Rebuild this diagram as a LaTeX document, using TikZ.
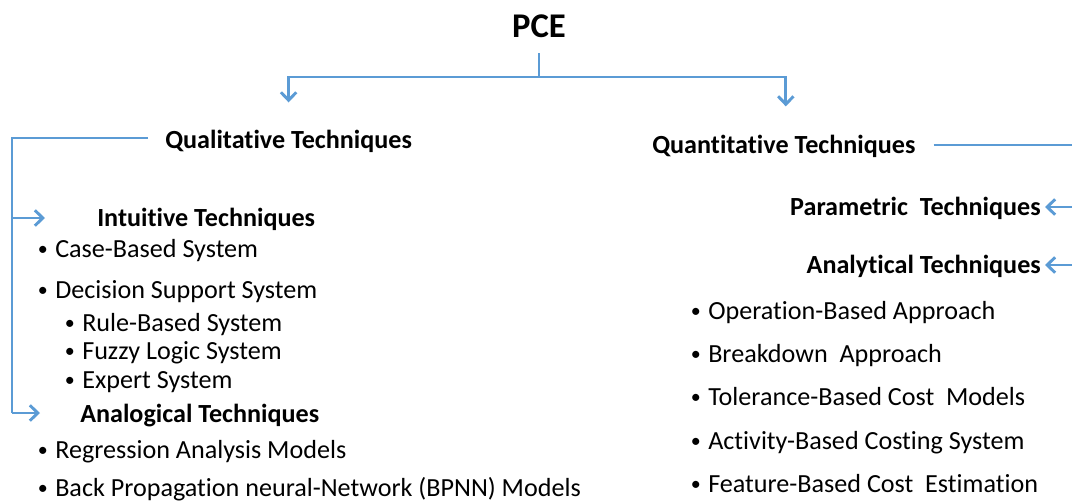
\documentclass[tikz,border=0pt]{standalone}
\usepackage{fontspec}
\setmainfont[Ligatures=NoCommon]{Carlito}
\usepackage{xcolor}
\usepackage{tikz}
\usetikzlibrary{arrows.meta,calc}
\definecolor{linkblue}{RGB}{91,155,213}
\newcommand{\bul}{\makebox[13.5pt][l]{\hspace{0.5pt}\fontsize{15}{15}\selectfont\raisebox{1pt}{•}}}

\begin{document}
\begin{tikzpicture}[x=0.75pt,y=-0.75pt,
    link/.style={draw=linkblue, line width=2.2pt},
    arr/.style={link, -{Straight Barb[length=6pt,width=11.5pt,line width=2.2pt]}},
    head/.style={font=\bfseries\fontsize{19.6}{23}\selectfont, inner sep=0pt, anchor=base west},
    item/.style={font=\fontsize{19.6}{23}\selectfont, inner sep=0pt, anchor=base west}]
    \useasboundingbox (0,0) rectangle (1072,501);

    % Root
    \node[font=\bfseries\fontsize{26}{30}\selectfont, inner sep=0pt, anchor=base] (pce) at (539,37) {PCE};

    % Main branches
    \node[head] (qual) at (165,148) {Qualitative Techniques};
    \node[head] (quant) at (652,153) {Quantitative Techniques};

    \draw[link] ($(pce.base)+(0,16)$) -- ($(pce.base)+(0,40)$) coordinate (split);
    \draw[arr] (split) -| ($(qual.north)+(0,-27)$);
    \draw[arr] (split) -| ($(quant.north)+(2,-28)$);

    % Qualitative side
    \node[head] (intu) at (97,226) {Intuitive Techniques};
    \node[item] (cbs) at (37,257) {\bul Case-Based System};
    \node[item] (dss) at (37,298) {\bul Decision Support System};
    \node[item] (rbs) at (64,331) {\bul Rule-Based System};
    \node[item] (fls) at (64,359) {\bul Fuzzy Logic System};
    \node[item] (exs) at (64,388) {\bul Expert System};
    \node[head] (anlg) at (80,422) {Analogical Techniques};
    \node[item] (ram) at (37,458) {\bul Regression Analysis Models};
    \node[item] (bpnn) at (37,496) {\bul Back Propagation neural-Network (BPNN) Models};

    \coordinate (rail) at (12,0);
    \draw[link] ($(qual.base west)+(-17,-10)$) -- (rail |- {$(qual.base west)+(0,-10)$}) -- (rail |- {$(anlg.base west)+(0,-9)$});
    \draw[arr] (rail |- {$(intu.base west)+(0,-8)$}) -- ++(33,0);
    \draw[arr] (rail |- {$(anlg.base west)+(0,-9)$}) -- ++(28,0);

    % Quantitative side
    \node[head, anchor=base east] (para) at (1041,215) {Parametric\ \ Techniques};
    \node[head, anchor=base east] (anal) at (1041,273) {Analytical Techniques};
    \node[item] (oba) at (690,319) {\bul Operation-Based Approach};
    \node[item] (bda) at (690,362) {\bul Breakdown\ \ Approach};
    \node[item] (tbc) at (690,405) {\bul Tolerance-Based Cost\ \ Models};
    \node[item] (abc) at (690,449) {\bul Activity-Based Costing System};
    \node[item] (fbc) at (690,492) {\bul Feature-Based Cost\ \ Estimation};

    \coordinate (rrail) at (1085,0);
    \draw[link] ($(quant.base east)+(18,-8)$) -- (rrail |- {$(quant.base east)+(0,-8)$}) -- (rrail |- {$(anal.base east)+(0,-8)$});
    \draw[arr] (rrail |- {$(para.base east)+(0,-8)$}) -- ($(para.base east)+(4,-8)$);
    \draw[arr] (rrail |- {$(anal.base east)+(0,-8)$}) -- ($(anal.base east)+(4,-8)$);
\end{tikzpicture}
\end{document}
